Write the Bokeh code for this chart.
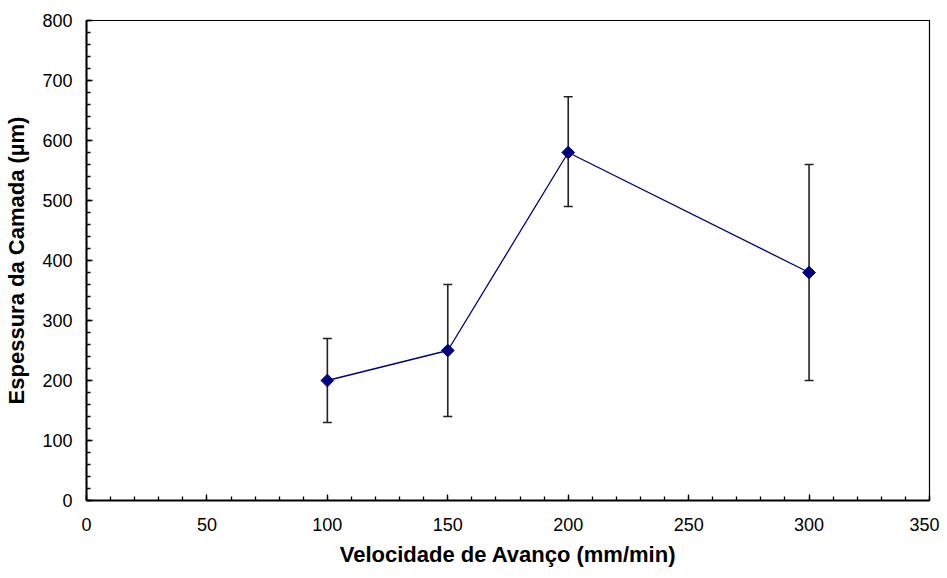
import math
from bokeh.plotting import figure
from bokeh.models import ColumnDataSource, Whisker, TeeHead, FixedTicker, Range1d
from bokeh.embed import file_html
from bokeh.resources import INLINE

velocidade = [100, 150, 200, 300]
espessura = [200, 250, 580, 380]
erro_inferior = [130, 140, 490, 200]
erro_superior = [270, 360, 673, 560]

x_ticks = [0, 50, 100, 150, 200, 250, 300, 350]
y_ticks = [0, 100, 200, 300, 400, 500, 600, 700, 800]

src = ColumnDataSource(dict(x=velocidade, y=espessura, lo=erro_inferior, hi=erro_superior))

p = figure(width=939, height=570, output_backend="svg", toolbar_location=None,
           x_range=Range1d(0, 350), y_range=Range1d(0, 800),
           min_border_left=86, min_border_right=10, min_border_top=20, min_border_bottom=70)

p.xgrid.visible = False
p.ygrid.visible = False
p.outline_line_color = "black"
p.outline_line_width = 1.2
p.background_fill_color = "white"
p.border_fill_color = "white"

font = "Liberation Sans"
for ax in (p.xaxis[0], p.yaxis[0]):
    ax.axis_line_color = "black"
    ax.axis_line_width = 2
    ax.major_tick_line_color = "black"
    ax.minor_tick_line_color = "black"
    ax.major_tick_line_width = 1.3
    ax.minor_tick_line_width = 1.3
    ax.major_tick_in = 6
    ax.major_tick_out = 0
    ax.minor_tick_in = 4
    ax.minor_tick_out = 0
    ax.major_label_text_font = font
    ax.major_label_text_font_size = "18px"
    ax.major_label_text_color = "black"
    ax.axis_label_text_font = font
    ax.axis_label_text_font_size = "22px"
    ax.axis_label_text_font_style = "bold"
    ax.axis_label_text_color = "black"

p.xaxis.ticker = FixedTicker(ticks=x_ticks, minor_ticks=list(range(0, 351, 10)))
p.yaxis.ticker = FixedTicker(ticks=y_ticks, minor_ticks=list(range(0, 801, 20)))
p.xaxis.major_label_standoff = 17
p.yaxis.major_label_standoff = 14
p.xaxis.axis_label = "Velocidade de Avanço (mm/min)"
p.yaxis.axis_label = "Espessura da Camada (µm)"
p.xaxis.axis_label_standoff = 8
p.yaxis.axis_label_standoff = 10

w = Whisker(source=src, base="x", lower="lo", upper="hi", line_color="#222222", line_width=1.6,
            lower_head=TeeHead(size=9, line_color="#222222", line_width=1.6),
            upper_head=TeeHead(size=9, line_color="#222222", line_width=1.6))
p.add_layout(w)

p.line("x", "y", source=src, line_color="#000080", line_width=1.3)
p.scatter("x", "y", source=src, marker="square", size=9, angle=math.pi / 4,
          fill_color="#000080", line_color="#000080")

open("out.html", "w").write(file_html(p, INLINE))
